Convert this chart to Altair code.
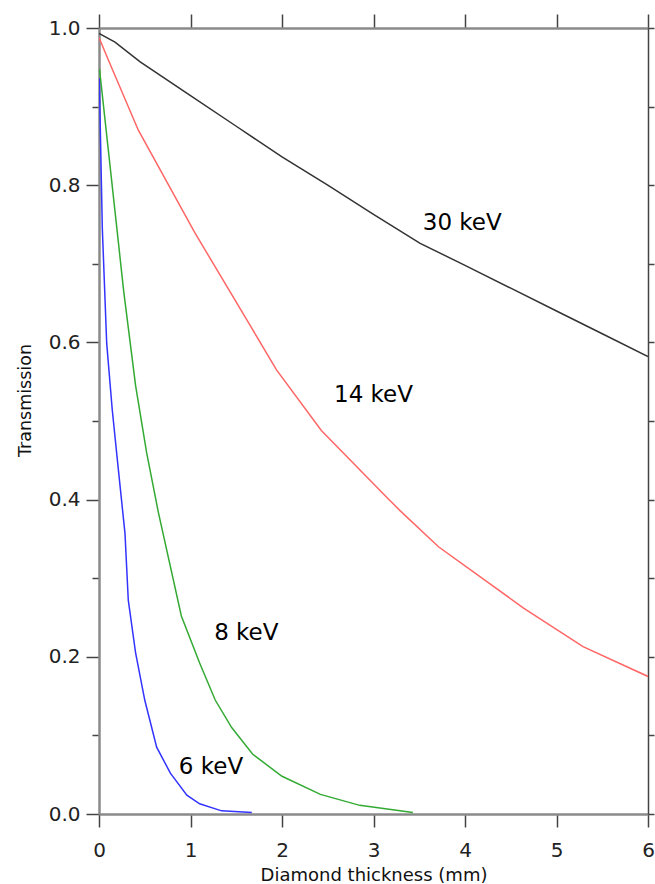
import altair as alt
import pandas as pd

# ---- data ----
x_30 = [0.0, 0.175, 0.45, 1.0, 1.5, 2.0, 2.5, 3.0, 3.51, 4.0, 4.5, 5.0, 5.5, 6.0]
t_30 = [0.993, 0.982, 0.957, 0.914, 0.875, 0.836, 0.800, 0.763, 0.726, 0.698, 0.669, 0.640, 0.611, 0.582]

x_14 = [0.0, 0.10, 0.43, 1.05, 1.65, 1.94, 2.43, 3.16, 3.29, 3.71, 4.64, 5.29, 6.0]
t_14 = [0.988, 0.960, 0.870, 0.739, 0.622, 0.565, 0.488, 0.401, 0.386, 0.340, 0.262, 0.213, 0.175]

x_8 = [0.005, 0.2, 0.27, 0.4, 0.52, 0.65, 0.9, 1.1, 1.27, 1.45, 1.68, 2.0, 2.42, 2.85, 3.43]
t_8 = [0.948, 0.740, 0.665, 0.545, 0.460, 0.383, 0.252, 0.192, 0.145, 0.110, 0.076, 0.048, 0.025, 0.011, 0.002]

x_6 = [0.003, 0.014, 0.036, 0.084, 0.145, 0.21, 0.284, 0.32, 0.4, 0.5, 0.63, 0.78, 0.96, 1.1, 1.34, 1.67]
t_6 = [0.936, 0.873, 0.746, 0.599, 0.514, 0.440, 0.357, 0.272, 0.205, 0.145, 0.085, 0.052, 0.024, 0.013, 0.004, 0.002]

series_names = ["30 keV", "14 keV", "8 keV", "6 keV"]
series_colors = ["#333333", "#ff6666", "#33aa33", "#3333ff"]

label_text = ["30 keV", "14 keV", "8 keV", "6 keV"]
label_x = [3.97, 3.0, 1.61, 1.224]
label_y = [0.743, 0.524, 0.222, 0.051]

x_ticks = [0, 1, 2, 3, 4, 5, 6]
y_ticks = [0.0, 0.1, 0.2, 0.3, 0.4, 0.5, 0.6, 0.7, 0.8, 0.9, 1.0]

# ---- tables ----
rows = []
for name, xs, ts in zip(series_names, [x_30, x_14, x_8, x_6], [t_30, t_14, t_8, t_6]):
    for i, (a, b) in enumerate(zip(xs, ts)):
        rows.append({"series": name, "x": a, "t": b, "order": i})
df = pd.DataFrame(rows)
labels = pd.DataFrame({"text": label_text, "x": label_x, "y": label_y})

FONT = "DejaVu Sans"
xscale = alt.Scale(domain=[0, 6], nice=False, zero=False)
yscale = alt.Scale(domain=[0, 1], nice=False, zero=False)

lines = alt.Chart(df).mark_line(strokeWidth=1.5, clip=True).encode(
    x=alt.X("x:Q", scale=xscale, axis=alt.Axis(
        orient="bottom", values=x_ticks, grid=False, tickSize=13, tickWidth=1.5,
        tickColor="#444444", domainColor="#8a8a8a", domainWidth=2.5,
        labelFontSize=20, labelFont=FONT, labelColor="#222222", labelPadding=13,
        labelFlush=False, labelOverlap=False,
        title="Diamond thickness (mm)", titleFont=FONT, titleFontSize=18,
        titleFontWeight="normal", titleColor="#111111", titleY=66,
        titleBaseline="alphabetic")),
    y=alt.Y("t:Q", scale=yscale, axis=alt.Axis(
        orient="left", values=y_ticks, grid=False,
        tickSize={"condition": {"test": "round(datum.value*10) % 2 == 0", "value": 13}, "value": 7},
        tickWidth=1.5, tickColor="#444444", domainColor="#8a8a8a", domainWidth=2.5,
        labelExpr="round(datum.value*10) % 2 == 0 ? format(datum.value, '.1f') : ''",
        labelFontSize=20, labelFont=FONT, labelColor="#222222", labelPadding=6,
        labelFlush=False, labelOverlap=False,
        title="Transmission", titleFont=FONT, titleFontSize=17.5, titleFontWeight="normal",
        titleColor="#111111", titleX=-69, titleY=372, titleBaseline="alphabetic")),
    color=alt.Color("series:N", scale=alt.Scale(domain=series_names, range=series_colors), legend=None),
    order="order:Q",
)

texts = alt.Chart(labels).mark_text(
    font=FONT, fontSize=23, align="center", baseline="alphabetic", color="#000000"
).encode(
    x=alt.X("x:Q", scale=xscale, axis=alt.Axis(
        orient="top", values=x_ticks, grid=False, labels=False, title=None,
        tickSize=14, tickWidth=1.5, tickColor="#444444",
        domainColor="#8a8a8a", domainWidth=2.5)),
    y=alt.Y("y:Q", scale=yscale, axis=alt.Axis(
        orient="right", values=y_ticks, grid=False, labels=False, title=None,
        tickSize=6, tickWidth=1.5, tickColor="#444444",
        domainColor="#444444", domainWidth=1.5)),
    text="text:N",
)

chart = alt.layer(lines, texts).resolve_axis(
    x="independent", y="independent"
).properties(
    width=549, height=786,
    autosize=alt.AutoSizeParams(type="none"),
    padding={"left": 99, "top": 28, "right": 7, "bottom": 70},
    background="white",
).configure_view(stroke=None)

chart.save("out.html", embed_options={"renderer": "svg", "actions": False})
